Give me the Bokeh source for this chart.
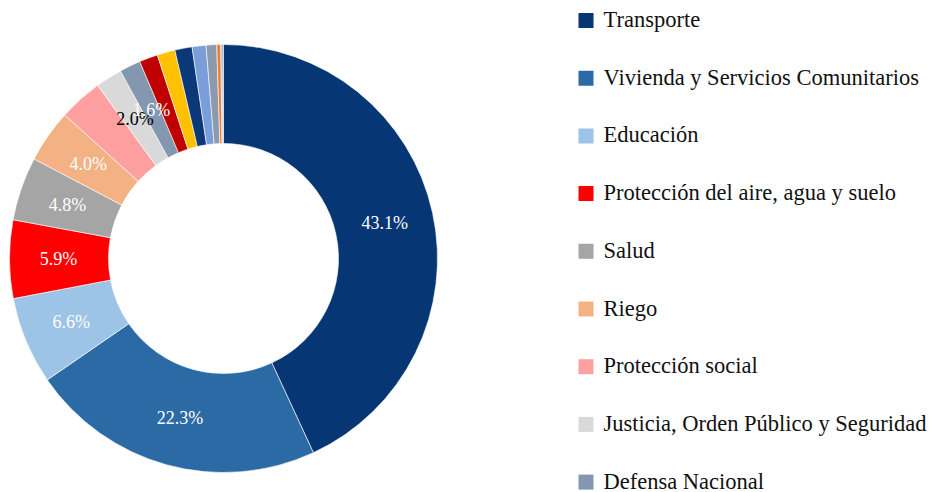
import math
from bokeh.plotting import figure
from bokeh.models import Range1d, ColumnDataSource
from bokeh.core.properties import value
from bokeh.embed import file_html
from bokeh.resources import INLINE

# ---- data ----
categories = [
    "Transporte",
    "Vivienda y Servicios Comunitarios",
    "Educación",
    "Protección del aire, agua y suelo",
    "Salud",
    "Riego",
    "Protección social",
    "Justicia, Orden Público y Seguridad",
    "Defensa Nacional",
    "Energía",
    "Agricultura",
    "Comunicaciones",
    "Actividades recreativas y cultura",
    "Minería",
    "Turismo",
    "Investigación",
    "Otros",
]
shares = [43.1, 22.3, 6.6, 5.9, 4.8, 4.0, 3.3, 2.0, 1.6, 1.4, 1.35, 1.3, 1.05, 0.8, 0.3, 0.1, 0.1]
colors = ["#073674", "#2C6AA6", "#9DC3E6", "#FF0000", "#A5A5A5", "#F4B183", "#FFA0A0",
          "#D9D9D9", "#8497B0", "#C00000", "#FFC000", "#0A3878", "#7A9ED9", "#8C9AAE",
          "#ED7D31", "#A5A5A5", "#4472C4"]
label_shown = [True, True, True, True, True, True, False, True, True,
               False, False, False, False, False, False, False, False]
label_colors = ["white", "white", "white", "white", "white", "white", "white", "black", "white",
                "white", "white", "white", "white", "white", "white", "white", "white"]
legend_count = 9  # the legend is cut off by the bottom of the chart after this entry

FONT = value("Liberation Serif")

# ---- layout ----
W, H = 932, 492
cx, cy = 223, H - 258
r_out, r_in = 214, 115
r_lab = 165

total = sum(shares)
starts, ends, lx, ly, ltxt = [], [], [], [], []
cum = 0.0
for s in shares:
    a0 = cum / total * 2 * math.pi
    cum += s
    a1 = cum / total * 2 * math.pi
    starts.append(math.pi / 2 - a0)
    ends.append(math.pi / 2 - a1)
    mid = (a0 + a1) / 2
    lx.append(cx + r_lab * math.sin(mid))
    ly.append(cy + r_lab * math.cos(mid))
for s, show in zip(shares, label_shown):
    ltxt.append(f"{s:.1f}%" if show else "")

src = ColumnDataSource(dict(start=starts, end=ends, color=colors,
                            lx=lx, ly=ly, txt=ltxt, tcol=label_colors,
                            cx=[cx] * len(shares), cy=[cy] * len(shares)))

p = figure(width=W, height=H, output_backend="svg", toolbar_location=None,
           x_range=Range1d(0, W), y_range=Range1d(0, H),
           x_axis_location=None, y_axis_location=None, min_border=0)
p.grid.visible = False
p.outline_line_color = None
p.background_fill_color = "white"
p.border_fill_color = "white"

p.annular_wedge(x="cx", y="cy", inner_radius=r_in, outer_radius=r_out,
                inner_radius_units="screen", outer_radius_units="screen",
                start_angle="start", end_angle="end", direction="clock",
                fill_color="color", line_color="white", line_width=0.6, source=src)

p.text(x="lx", y="ly", text="txt", text_color="tcol", source=src,
       text_font=FONT, text_font_size="18px",
       text_align="center", text_baseline="middle")

# ---- legend (drawn manually) ----
sw_x = 585.5
tx = 603
top = H - 20
step = 57.7
centers = [top - i * step for i in range(legend_count)]
leg = ColumnDataSource(dict(
    sx=[sw_x] * legend_count,
    sy=centers,
    ty=[c + 1 for c in centers],
    tx=[tx] * legend_count,
    col=colors[:legend_count],
    name=categories[:legend_count],
))
p.rect(x="sx", y="sy", width=15, height=15, width_units="screen", height_units="screen",
       fill_color="col", line_color=None, source=leg)
p.text(x="tx", y="ty", text="name", source=leg, text_color="#111111",
       text_font=FONT, text_font_size="22.5px",
       text_align="left", text_baseline="middle")

open("out.html", "w").write(file_html(p, INLINE))
